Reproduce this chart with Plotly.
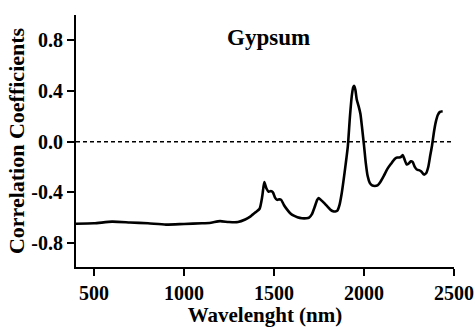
import plotly.graph_objects as go

wavelength = [400, 500, 600, 700, 800, 900, 1000, 1100, 1150, 1200, 1250, 1300, 1340, 1370, 1400, 1420,
              1435, 1446, 1458, 1470, 1482, 1494, 1505, 1517, 1530, 1540, 1555, 1572, 1590, 1610, 1630,
              1655, 1680, 1695, 1710, 1725, 1740, 1748, 1760, 1775, 1795, 1812, 1828, 1840, 1852, 1864,
              1876, 1886, 1898, 1910, 1922, 1932, 1940, 1946, 1952, 1960, 1970, 1980, 1990, 2000, 2010,
              2020, 2032, 2045, 2060, 2075, 2090, 2110, 2130, 2150, 2172, 2185, 2196, 2206, 2215, 2225,
              2237, 2250, 2260, 2270, 2282, 2293, 2305, 2318, 2333, 2345, 2357, 2368, 2378, 2388, 2398,
              2410, 2422, 2437]
corr = [-0.648, -0.645, -0.632, -0.638, -0.645, -0.655, -0.65, -0.645, -0.64, -0.628, -0.635, -0.635,
        -0.615, -0.59, -0.555, -0.53, -0.43, -0.32, -0.37, -0.395, -0.39, -0.40, -0.44, -0.46, -0.455,
        -0.46, -0.5, -0.535, -0.565, -0.585, -0.597, -0.605, -0.605, -0.6, -0.575, -0.52, -0.46, -0.445,
        -0.46, -0.48, -0.51, -0.535, -0.55, -0.552, -0.545, -0.5, -0.41, -0.31, -0.18, -0.04, 0.2, 0.36,
        0.43, 0.44, 0.41, 0.33, 0.28, 0.22, 0.1, -0.03, -0.17, -0.27, -0.325, -0.345, -0.35, -0.345,
        -0.32, -0.27, -0.215, -0.175, -0.135, -0.125, -0.125, -0.12, -0.105, -0.14, -0.18, -0.17,
        -0.155, -0.16, -0.2, -0.22, -0.225, -0.235, -0.26, -0.25, -0.2, -0.11, -0.03, 0.07, 0.15, 0.21,
        0.235, 0.24]

x_ticks = [500, 1000, 1500, 2000, 2500]
x_tick_labels = ["500", "1000", "1500", "2000", "2500"]
y_ticks = [-0.8, -0.4, 0.0, 0.4, 0.8]
y_tick_labels = ["-0.8", "-0.4", "0.0", "0.4", "0.8"]

FONT = "Liberation Serif, Times New Roman, serif"

fig = go.Figure()
fig.add_trace(go.Scatter(x=wavelength, y=corr, mode="lines",
                         line=dict(color="black", width=2.6, shape="spline", smoothing=0.6),
                         showlegend=False, hoverinfo="skip"))

fig.add_shape(type="line", xref="x", yref="y", x0=400, x1=2500, y0=0, y1=0,
              line=dict(color="black", width=1.5, dash="4px,3px"))

fig.add_annotation(x=1468, y=0.824, xref="x", yref="y", text="<b>Gypsum</b>",
                   showarrow=False, font=dict(family=FONT, size=23, color="black"),
                   xanchor="center", yanchor="middle")

fig.update_xaxes(range=[400, 2500], tickvals=x_ticks, ticktext=["<b>%s</b>" % t for t in x_tick_labels],
                 ticks="outside", ticklen=7, tickwidth=2, automargin=False,
                 tickcolor="black", showline=True, linecolor="black", linewidth=2.2,
                 showgrid=False, zeroline=False,
                 tickfont=dict(family=FONT, size=20, color="black"),
                 title=dict(text="<b>Wavelenght (nm)</b>", font=dict(family=FONT, size=21, color="black"),
                            standoff=2))
fig.update_yaxes(range=[-0.99, 1.0], tickvals=y_ticks, ticktext=["<b>%s</b>" % t for t in y_tick_labels],
                 ticks="outside", ticklen=7, tickwidth=2, automargin=False,
                 tickcolor="black", showline=True, linecolor="black", linewidth=2.2,
                 showgrid=False, zeroline=False,
                 tickfont=dict(family=FONT, size=20, color="black"),
                 title=dict(text="<b>Correlation Coefficients</b>",
                            font=dict(family=FONT, size=22, color="black"), standoff=1))

fig.update_layout(width=476, height=327, margin=dict(l=76, r=22, t=15, b=60),
                  font=dict(family=FONT, color="black"),
                  plot_bgcolor="white", paper_bgcolor="white")

fig.write_html("out.html")
